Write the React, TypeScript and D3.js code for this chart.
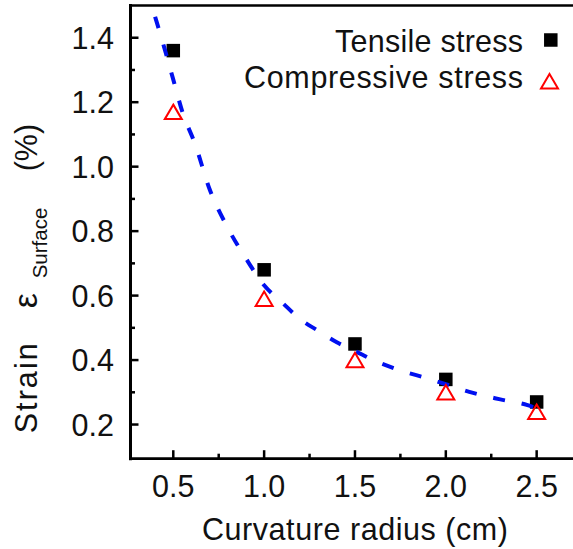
import React from "react";
import * as d3 from "d3";

// Curvature radius (cm) at which strain was measured
const radii = [0.5, 1.0, 1.5, 2.0, 2.5];
// Surface strain (%) under tensile and compressive bending
const tensile = [1.36, 0.68, 0.45, 0.34, 0.27];
const compressive = [1.17, 0.59, 0.40, 0.30, 0.24];

// Trend line through the measurements (radius, strain)
const trendX = [0.40, 0.45, 0.50, 0.55, 0.62, 0.70, 0.80, 0.90, 1.00, 1.10, 1.20, 1.30, 1.40, 1.50, 1.60, 1.75, 1.90, 2.00, 2.15, 2.30, 2.45, 2.50];
const trendY = [1.465, 1.37, 1.27, 1.17, 1.07, 0.93, 0.81, 0.715, 0.632, 0.578, 0.526, 0.49, 0.455, 0.428, 0.40, 0.368, 0.343, 0.325, 0.298, 0.278, 0.26, 0.25];

const xMajor = [0.5, 1.0, 1.5, 2.0, 2.5];
const xMinor = [0.75, 1.25, 1.75, 2.25];
const yMajor = [0.2, 0.4, 0.6, 0.8, 1.0, 1.2, 1.4];
const yMinor = [0.3, 0.5, 0.7, 0.9, 1.1, 1.3];

const legendLabels = ["Tensile stress", "Compressive stress"];

const W = 573;
const H = 549;
const FONT = "'Liberation Sans', Arial, sans-serif";

export default function App() {
  const x = d3.scaleLinear().domain([0.2645, 2.7]).range([130.5, 573]);
  const y = d3.scaleLinear().domain([0.094, 1.5]).range([458.7, 5.5]);

  const [x0, x1] = x.range();
  const [yB, yT] = y.range();

  const line = d3
    .line<number>()
    .x((_, i) => x(trendX[i]))
    .y((d) => y(d))
    .curve(d3.curveMonotoneX);

  const sq = 13.5;
  const triW = 17;
  const triH = 14.5;
  const tri = (cx: number, cy: number) =>
    `M${cx},${cy - triH / 2}L${cx + triW / 2},${cy + triH / 2}L${cx - triW / 2},${cy + triH / 2}Z`;

  return (
    <svg
      width={W}
      height={H}
      style={{ position: "absolute", left: 0, top: 0, background: "#fff" }}
      fontFamily={FONT}
    >
      <rect width={W} height={H} fill="#fff" />

      {/* frame */}
      <line x1={x0} x2={x0} y1={yT - 1.5} y2={yB + 1.5} stroke="#000" strokeWidth={3} />
      <line x1={x0 - 1.5} x2={x1} y1={yB} y2={yB} stroke="#000" strokeWidth={2.8} />
      <line x1={x0 - 1.5} x2={x1} y1={yT} y2={yT} stroke="#000" strokeWidth={2.6} />

      {/* y ticks */}
      {yMajor.map((v) => (
        <g key={"ym" + v}>
          <line x1={x0} x2={x0 + 8} y1={y(v)} y2={y(v)} stroke="#000" strokeWidth={2.5} />
          <text x={114} y={y(v) + 11} fontSize={30.5} textAnchor="end" fill="#111">
            {v.toFixed(1)}
          </text>
        </g>
      ))}
      {yMinor.map((v) => (
        <line key={"yn" + v} x1={x0} x2={x0 + 4.5} y1={y(v)} y2={y(v)} stroke="#000" strokeWidth={2.5} />
      ))}

      {/* x ticks */}
      {xMajor.map((v) => (
        <g key={"xm" + v}>
          <line x1={x(v)} x2={x(v)} y1={yB} y2={yB - 8.5} stroke="#000" strokeWidth={2.5} />
          <text x={x(v)} y={496.7} fontSize={30.5} textAnchor="middle" fill="#111">
            {v.toFixed(1)}
          </text>
        </g>
      ))}
      {xMinor.map((v) => (
        <line key={"xn" + v} x1={x(v)} x2={x(v)} y1={yB} y2={yB - 5} stroke="#000" strokeWidth={2.5} />
      ))}

      {/* axis titles */}
      <text x={355} y={540} fontSize={30.5} textAnchor="middle" fill="#111" textLength={306} lengthAdjust="spacing">
        Curvature radius (cm)
      </text>
      <g transform="translate(36.7,433.3) rotate(-90)" fill="#111">
        <text x={0} y={0} fontSize={30.5} textLength={90} lengthAdjust="spacing">Strain</text>
        <text x={125} y={0} fontSize={34}>ε</text>
        <text x={155} y={10} fontSize={20.5}>Surface</text>
        <text x={262} y={0} fontSize={30.5}>(%)</text>
      </g>

      {/* tensile markers */}
      {radii.map((r, i) => (
        <rect key={"t" + r} x={x(r) - sq / 2} y={y(tensile[i]) - sq / 2} width={sq} height={sq} fill="#000" />
      ))}

      {/* trend line */}
      <path
        d={line(trendY) || ""}
        fill="none"
        stroke="#0010f0"
        strokeWidth={4}
        strokeDasharray="12 17"
      />

      {/* compressive markers */}
      {radii.map((r, i) => (
        <path key={"c" + r} d={tri(x(r), y(compressive[i]))} fill="none" stroke="#ff0000" strokeWidth={2} />
      ))}

      {/* legend */}
      <text x={523} y={51.7} fontSize={30.5} textAnchor="end" fill="#111" textLength={188} lengthAdjust="spacing">
        {legendLabels[0]}
      </text>
      <rect x={550.8 - sq / 2} y={40 - sq / 2} width={sq} height={sq} fill="#000" />
      <text x={523} y={88.3} fontSize={30.5} textAnchor="end" fill="#111" textLength={279} lengthAdjust="spacing">
        {legendLabels[1]}
      </text>
      <path d={tri(549.5, 81.2)} fill="none" stroke="#ff0000" strokeWidth={2} />
    </svg>
  );
}
